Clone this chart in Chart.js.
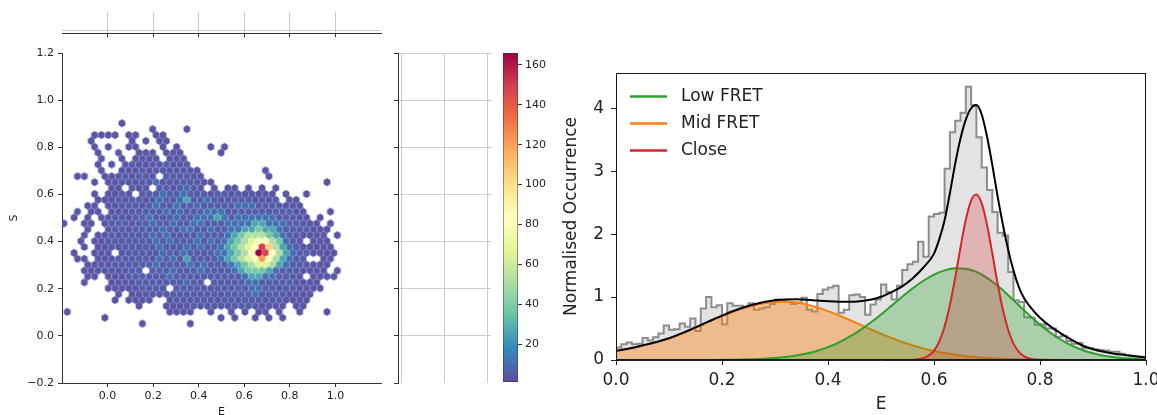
<!DOCTYPE html>
<html>
<head>
<meta charset="utf-8">
<title>E-S hexbin and FRET histogram</title>
<script src="https://cdn.jsdelivr.net/npm/chart.js@4.4.1/dist/chart.umd.min.js"></script>
<style>
  html, body { margin: 0; padding: 0; background: #fff; }
  body { position: relative; width: 1157px; height: 415px; overflow: hidden; }
  canvas { position: absolute; }
</style>
</head>
<body>
<canvas id="topMargin" width="400" height="45" style="left:0px;top:0px"></canvas>
<canvas id="hexPlot" width="400" height="385" style="left:0px;top:40px"></canvas>
<canvas id="sideMargin" width="115" height="375" style="left:385px;top:40px"></canvas>
<canvas id="colorBar" width="60" height="375" style="left:495px;top:40px"></canvas>
<canvas id="fretHist" width="602" height="365" style="left:555px;top:50px"></canvas>
<script>
// ---------------- data ----------------

// hexbin counts of E vs S, one string per hex row (top row first), '.' = empty bin
const hexRows = [
  "........1",
  ".............1....1",
  "....1111.11..11",
  "....1.....1.1.11",
  "....1.1..11...1.1....1.1",
  ".....1..1..111.111.....1",
  ".....1..1.1111.111",
  ".....1.1.1111212111",
  ".....1..111212212111.........1",
  "..11..11121211.212211.........1",
  "....1.1122121321221211................1",
  ".......11.212.2212321.1.11.1.1.1",
  "....1.1121.22232232221221211111.1..1",
  ".....111212212322342232222221212.11",
  "...11.11222123223223222223332222111",
  "..1.11.11122222323222333222222222211...1",
  ".1.1.1122122322232233343233333322211.1",
  "1..11.12221223223223322233334433322211.1",
  "...1..122122223223322322334454432222111",
  "...1.1121222232322223222345666543221111.1",
  "..1.1122122223232223232345678865321.111",
  "...1.112122222322232322345678b9643211111",
  ".1..111.12222232232222334568cb8643221111",
  "..11.111222222323242222345678a864322..11",
  "...111121222232222323222345677643221111",
  "...111221222.22232223222234555432221111.1",
  "...11.11122222232222222222344332221.1111",
  "...1...11212222222322.2222233222221111",
  "......111112222.2222212222233222221111",
  "........1.112112222212222222322221111",
  ".......1.1111..122122212222221221111",
  "...........1...111121112122221111.11",
  "1..............1111..1..1.1.11.1..1...1",
  "......1................1.1..1.1.1",
  "...........1......1"
];
// bin count behind each level character
const levelCounts = { '1': 3, '2': 5, '3': 11, '4': 26, '5': 38, '6': 52, '7': 66, '8': 85, '9': 105, 'a': 122, 'b': 148, 'c': 166 };
const countMin = 1;
const countMax = 166;

// hex lattice (E of first column in odd rows, S of top row, spacings)
const hexE0 = -0.192;
const hexDE = 0.03;
const hexS0 = 0.902;
const hexDS = 0.025;

const eTicks = [0, 0.2, 0.4, 0.6, 0.8, 1.0];
const sTicks = [-0.2, 0, 0.2, 0.4, 0.6, 0.8, 1.0, 1.2];
const countTicks = [20, 40, 60, 80, 100, 120, 140, 160];

// FRET efficiency histogram, 100 bins of 0.01 from E = 0
const histBinWidth = 0.01;
const histValues = [
  0.17, 0.20, 0.25, 0.28, 0.25, 0.26, 0.35, 0.31, 0.36, 0.42,
  0.55, 0.48, 0.49, 0.58, 0.53, 0.66, 0.46, 0.82, 1.00, 0.84,
  0.87, 0.57, 0.90, 0.86, 0.86, 0.84, 0.90, 0.80, 0.82, 0.84,
  0.89, 0.96, 0.94, 0.92, 0.89, 0.91, 0.99, 0.80, 0.77, 1.05,
  1.12, 1.15, 1.18, 0.75, 0.80, 1.03, 1.04, 1.00, 0.72, 0.88,
  0.96, 1.20, 1.08, 0.96, 1.18, 1.43, 1.52, 1.56, 1.88, 1.64,
  2.28, 2.32, 2.34, 3.04, 3.62, 3.80, 3.93, 4.34, 4.05, 3.54,
  3.06, 2.70, 2.35, 2.02, 1.98, 1.40, 0.95, 0.92, 0.68, 0.67,
  0.56, 0.57, 0.50, 0.50, 0.37, 0.38, 0.30, 0.26, 0.27, 0.19,
  0.19, 0.17, 0.16, 0.15, 0.13, 0.13, 0.10, 0.08, 0.06, 0.05
];

// fitted components, sampled every 0.02 in E
const curveStep = 0.02;
const midFret = [
  0.140, 0.172, 0.208, 0.248, 0.290, 0.340, 0.405, 0.475, 0.550, 0.625,
  0.695, 0.762, 0.820, 0.866, 0.900, 0.922, 0.928, 0.912, 0.880, 0.834,
  0.777, 0.711, 0.639, 0.564, 0.489, 0.417, 0.349, 0.287, 0.232, 0.184,
  0.144, 0.110, 0.083, 0.061, 0.044, 0.032, 0.022, 0.015, 0.010, 0.007,
  0.004, 0.003, 0.002, 0.001, 0.001, 0, 0, 0, 0, 0, 0
];
const lowFret = [
  0, 0, 0, 0, 0, 0, 0, 0, 0.001, 0.001,
  0.002, 0.004, 0.007, 0.012, 0.019, 0.030, 0.047, 0.070, 0.103, 0.147,
  0.204, 0.277, 0.366, 0.471, 0.592, 0.724, 0.864, 1.005, 1.140, 1.259,
  1.356, 1.424, 1.457, 1.451, 1.400, 1.306, 1.179, 1.029, 0.870, 0.711,
  0.562, 0.430, 0.318, 0.228, 0.158, 0.106, 0.069, 0.043, 0.026, 0.015, 0.009
];
const closeE = [0, 0.55, 0.56, 0.57, 0.58, 0.59, 0.60, 0.61, 0.62, 0.63, 0.64, 0.65, 0.66, 0.67,
  0.68, 0.69, 0.70, 0.71, 0.72, 0.73, 0.74, 0.75, 0.76, 0.77, 0.78, 0.79, 0.80, 0.81, 1.0];
const close = [0, 0.001, 0.004, 0.011, 0.029, 0.069, 0.150, 0.296, 0.532, 0.873, 1.308, 1.788, 2.228, 2.534,
  2.630, 2.488, 2.148, 1.692, 1.215, 0.797, 0.477, 0.260, 0.129, 0.059, 0.024, 0.009, 0.003, 0.001, 0];
const totalE = [0, 0.02, 0.04, 0.06, 0.08, 0.10, 0.12, 0.14, 0.16, 0.18, 0.20, 0.22, 0.24, 0.26, 0.28,
  0.30, 0.32, 0.34, 0.36, 0.38, 0.40, 0.42, 0.44, 0.46, 0.48, 0.50, 0.52, 0.54, 0.56, 0.58, 0.60,
  0.61, 0.62, 0.63, 0.64, 0.65, 0.66, 0.67, 0.68, 0.69, 0.70, 0.71, 0.72, 0.73, 0.74, 0.75, 0.76, 0.77, 0.78,
  0.80, 0.82, 0.84, 0.86, 0.88, 0.90, 0.92, 0.94, 0.96, 0.98, 1.00];
const total = [0.145, 0.176, 0.212, 0.252, 0.295, 0.345, 0.41, 0.48, 0.556, 0.632, 0.704, 0.774, 0.834, 0.882, 0.922,
  0.950, 0.963, 0.965, 0.958, 0.945, 0.933, 0.925, 0.924, 0.933, 0.957, 1.005, 1.08, 1.17, 1.30, 1.47, 1.69,
  1.92, 2.22, 2.65, 3.12, 3.52, 3.82, 4.00, 4.05, 3.90, 3.55, 3.10, 2.60, 2.15, 1.75, 1.42, 1.16, 0.98, 0.86,
  0.67, 0.53, 0.42, 0.32, 0.23, 0.17, 0.13, 0.10, 0.08, 0.06, 0.04];

const legendOrder = ['Low FRET', 'Mid FRET', 'Close'];

// ---------------- drawing ----------------
(function () {
  'use strict'

  Chart.defaults.font.family = "'DejaVu Sans', sans-serif";
  Chart.defaults.color = '#222';
  Chart.defaults.animation = false;
  Chart.defaults.events = [];
  Chart.defaults.plugins.legend.display = false;
  Chart.defaults.plugins.tooltip.enabled = false;

  // matplotlib Spectral_r
  const spectralR = [[94, 79, 162], [50, 136, 189], [102, 194, 165], [171, 221, 164], [230, 245, 152],
    [255, 255, 191], [254, 224, 139], [253, 174, 97], [244, 109, 67], [213, 62, 79], [158, 1, 66]];

  function spectral(t) {
    t = Math.min(1, Math.max(0, t));
    let p = t * (spectralR.length - 1);
    let i = Math.min(Math.floor(p), spectralR.length - 2);
    let f = p - i;
    let a = spectralR[i], b = spectralR[i + 1];
    return 'rgb(' + [0, 1, 2].map(k => Math.round(a[k] + (b[k] - a[k]) * f)).join(',') + ')';
  }

  function hexIcon(color) {
    let c = document.createElement('canvas');
    c.width = 10; c.height = 10;
    let g = c.getContext('2d');
    g.fillStyle = color;
    g.beginPath();
    for (let k = 0; k < 6; k++) {
      let a = (60 * k - 90) * Math.PI / 180;
      let px = 5 + 3.9 * Math.cos(a), py = 5 + 3.9 * Math.sin(a);
      if (k === 0) g.moveTo(px, py); else g.lineTo(px, py);
    }
    g.closePath();
    g.fill();
    return c;
  }

  let hexIcons = {};
  Object.keys(levelCounts).forEach(k => {
    hexIcons[k] = hexIcon(spectral((levelCounts[k] - countMin) / (countMax - countMin)));
  });

  let hexPoints = [];
  hexRows.forEach((row, j) => {
    for (let i = 0; i < row.length; i++) {
      let ch = row[i];
      if (ch === '.') continue;
      hexPoints.push({
        x: hexE0 + i * hexDE + (j % 2 === 0 ? hexDE / 2 : 0),
        y: hexS0 - j * hexDS,
        lvl: ch
      });
    }
  });

  const fixWidth = w => scale => { scale.width = w; };
  const fixHeight = h => scale => { scale.height = h; scale.paddingLeft = 0; scale.paddingRight = 0; };
  const setTicks = list => scale => { scale.ticks = list.map(v => ({ value: v })); };
  const fmt1 = v => (v < -1e-9 ? '\u2212' : '') + Math.abs(v).toFixed(1);
  const smallFont = { size: 11 };

  // top marginal axes (empty)
  new Chart(document.getElementById('topMargin'), {
    type: 'scatter',
    data: { datasets: [{ data: [] }] },
    options: {
      responsive: false,
      layout: { autoPadding: false, padding: { left: 62, right: 19, top: 12, bottom: 0 } },
      scales: {
        x: {
          type: 'linear', min: -0.2, max: 1.2,
          afterBuildTicks: setTicks(eTicks), afterFit: fixHeight(12),
          grid: { color: '#cccccc', tickColor: '#333', tickLength: 4 },
          border: { color: '#333' },
          ticks: { display: false }
        },
        y: {
          min: -1, max: 6,
          afterBuildTicks: setTicks([0]), afterFit: fixWidth(0),
          grid: { color: '#cccccc', drawTicks: false },
          border: { display: false },
          ticks: { display: false }
        }
      }
    }
  });

  // hexbin E-S plot
  new Chart(document.getElementById('hexPlot'), {
    type: 'scatter',
    data: {
      datasets: [{
        data: hexPoints,
        pointStyle: ctx => (ctx.raw ? hexIcons[ctx.raw.lvl] : 'circle'),
        pointRadius: 3.5
      }]
    },
    options: {
      responsive: false,
      layout: { autoPadding: false, padding: { left: 0, right: 19, top: 13, bottom: 0 } },
      scales: {
        x: {
          type: 'linear', min: -0.2, max: 1.2,
          afterBuildTicks: setTicks(eTicks), afterFit: fixHeight(42),
          grid: { drawOnChartArea: false, color: '#333', tickLength: 4 },
          border: { color: '#333' },
          ticks: { font: smallFont, padding: 3, maxRotation: 0, autoSkip: false, callback: fmt1 },
          title: { display: true, text: 'E', font: smallFont, padding: { top: 0, bottom: 6.4 } }
        },
        y: {
          min: -0.2, max: 1.2,
          afterBuildTicks: setTicks(sTicks), afterFit: fixWidth(62),
          grid: { drawOnChartArea: false, color: '#333', tickLength: 4 },
          border: { color: '#333' },
          ticks: { font: smallFont, padding: 4, autoSkip: false, callback: fmt1 },
          title: { display: true, text: 'S', font: smallFont, padding: { top: 7.4, bottom: 0 } }
        }
      }
    }
  });

  // right marginal axes (empty)
  new Chart(document.getElementById('sideMargin'), {
    type: 'scatter',
    data: { datasets: [{ data: [] }] },
    options: {
      responsive: false,
      layout: { autoPadding: false, padding: { left: 9, right: 9, top: 13, bottom: 32 } },
      scales: {
        x: {
          type: 'linear', min: -0.094, max: 2.094,
          afterBuildTicks: setTicks([0, 1, 2]), afterFit: fixHeight(0),
          grid: { color: '#cccccc', drawTicks: false },
          border: { display: false },
          ticks: { display: false }
        },
        y: {
          min: -0.2, max: 1.2,
          afterBuildTicks: setTicks(sTicks), afterFit: fixWidth(4),
          grid: {
            color: ctx => (ctx.tick && ctx.tick.value < -0.1 ? 'rgba(0,0,0,0)' : '#cccccc'),
            tickColor: '#333', tickLength: 4
          },
          border: { color: '#333' },
          ticks: { display: false }
        }
      }
    }
  });

  // colour bar
  new Chart(document.getElementById('colorBar'), {
    type: 'bar',
    data: {
      labels: ['counts'],
      datasets: [{
        data: [[countMin, countMax]],
        backgroundColor: ctx => {
          let a = ctx.chart.chartArea;
          if (!a) return spectral(0);
          let g = ctx.chart.ctx.createLinearGradient(0, a.bottom, 0, a.top);
          for (let k = 0; k <= 20; k++) g.addColorStop(k / 20, spectral(k / 20));
          return g;
        },
        borderColor: '#333', borderWidth: 0.8, borderSkipped: false,
        barPercentage: 1, categoryPercentage: 1
      }]
    },
    options: {
      responsive: false,
      layout: { autoPadding: false, padding: { left: 8, right: 0, top: 13, bottom: 33 } },
      scales: {
        x: { display: false },
        y: {
          position: 'right', min: countMin, max: countMax,
          afterBuildTicks: setTicks(countTicks), afterFit: fixWidth(37),
          grid: { drawOnChartArea: false, color: '#333', tickLength: 4 },
          border: { display: false },
          ticks: { font: smallFont, padding: 3, autoSkip: false }
        }
      }
    }
  });

  // FRET histogram with fitted components
  let histPoints = [{ x: 0, y: 0 }];
  histValues.forEach((v, k) => histPoints.push({ x: k * histBinWidth, y: v }));
  histPoints.push({ x: 1, y: histValues[histValues.length - 1] }, { x: 1, y: 0 });

  const onGrid = vals => vals.map((v, i) => ({ x: i * curveStep, y: v }));
  const pair = (xs, ys) => xs.map((x, i) => ({ x: x, y: ys[i] }));

  const curve = (label, data, color, fillColor, order) => ({
    label: label, data: data, borderColor: color, backgroundColor: fillColor,
    fill: fillColor ? 'origin' : false, borderWidth: 2, pointRadius: 0,
    cubicInterpolationMode: 'monotone', order: order
  });

  const frame = {
    id: 'frame',
    afterDatasetsDraw(chart) {
      let ctx = chart.ctx, a = chart.chartArea;
      ctx.save();
      ctx.strokeStyle = '#1a1a1a';
      ctx.lineWidth = 1;
      ctx.strokeRect(Math.round(a.left) + 0.5, Math.round(a.top) + 0.5,
        Math.round(a.right - a.left) - 1, Math.round(a.bottom - a.top) - 1);
      ctx.restore();
    }
  };

  const fretLegend = {
    id: 'fretLegend',
    afterDraw(chart) {
      let ctx = chart.ctx, a = chart.chartArea;
      ctx.save();
      ctx.font = "17px 'DejaVu Sans', sans-serif";
      ctx.textBaseline = 'middle';
      legendOrder.forEach((name, i) => {
        let ds = chart.data.datasets.find(d => d.label === name);
        let y = Math.round(a.top + 23 + i * 27) + 0.5;
        ctx.strokeStyle = ds.borderColor;
        ctx.lineWidth = 2.5;
        ctx.beginPath();
        ctx.moveTo(a.left + 14, y);
        ctx.lineTo(a.left + 51, y);
        ctx.stroke();
        ctx.fillStyle = '#222';
        ctx.fillText(name, a.left + 65, y);
      });
      ctx.restore();
    }
  };

  const bigFont = { size: 17 };

  new Chart(document.getElementById('fretHist'), {
    type: 'line',
    data: {
      datasets: [
        {
          label: 'Histogram', data: histPoints, stepped: 'after',
          borderColor: '#8c8c8c', borderWidth: 2, backgroundColor: 'rgba(128,128,128,0.22)',
          fill: 'origin', pointRadius: 0, order: 4
        },
        curve('Mid FRET', onGrid(midFret), '#ff7f0e', 'rgba(255,127,14,0.4)', 3),
        curve('Low FRET', onGrid(lowFret), '#2ca02c', 'rgba(44,160,44,0.3)', 2),
        curve('Close', pair(closeE, close), '#d62728', 'rgba(214,39,40,0.25)', 1),
        curve('Total', pair(totalE, total), '#000000', null, 0)
      ]
    },
    plugins: [frame, fretLegend],
    options: {
      responsive: false,
      layout: { autoPadding: false, padding: { left: 0, right: 11, top: 23, bottom: 0 } },
      scales: {
        x: {
          type: 'linear', min: 0, max: 1,
          afterBuildTicks: setTicks(eTicks), afterFit: fixHeight(55),
          grid: { drawOnChartArea: false, color: '#222', tickLength: 5 },
          border: { color: '#222' },
          ticks: { font: bigFont, padding: 5, maxRotation: 0, autoSkip: false, callback: v => v.toFixed(1) },
          title: { display: true, text: 'E', font: bigFont, padding: { top: 0, bottom: 0 } }
        },
        y: {
          min: 0, max: 4.56,
          afterBuildTicks: setTicks([0, 1, 2, 3, 4]), afterFit: fixWidth(61),
          grid: { drawOnChartArea: false, color: '#222', tickLength: 5 },
          border: { color: '#222' },
          ticks: { font: bigFont, padding: 7, autoSkip: false },
          title: { display: true, text: 'Normalised Occurrence', font: bigFont, padding: { top: 6.8, bottom: 0 } }
        }
      }
    }
  });
})()
</script>
</body>
</html>
